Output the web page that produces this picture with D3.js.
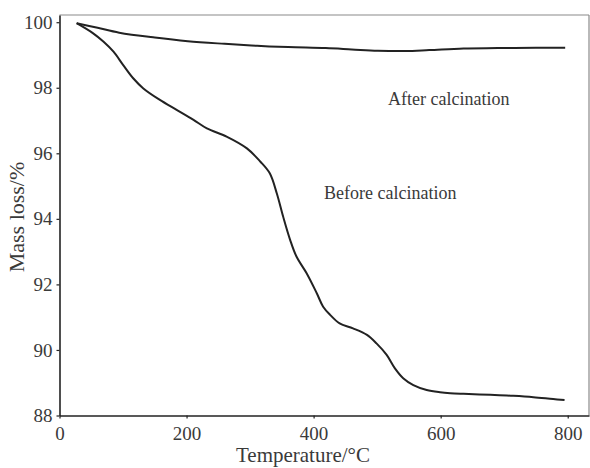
<!DOCTYPE html>
<html>
<head>
<meta charset="utf-8">
<script src="https://cdn.jsdelivr.net/npm/d3@7"></script>
<style>
  html, body { margin: 0; padding: 0; background: #fff; }
  svg { display: block; }
</style>
</head>
<body>
<svg id="chart" width="590" height="468"></svg>
<script>
// ---- Data ----
const xTicks = [0, 200, 400, 600, 800];
const yTicks = [88, 90, 92, 94, 96, 98, 100];

const beforeT = [27, 53, 69, 85, 100, 116, 132, 158, 185, 211, 232, 263, 295, 316, 331, 342, 352, 363, 373, 389, 405, 415, 426, 441, 462, 484, 499, 515, 528, 541, 557, 578, 599, 615, 636, 678, 714, 746, 777, 795];
const beforeM = [99.97, 99.66, 99.41, 99.10, 98.70, 98.29, 97.98, 97.63, 97.32, 97.02, 96.76, 96.51, 96.15, 95.75, 95.39, 94.78, 94.07, 93.36, 92.85, 92.34, 91.73, 91.32, 91.07, 90.81, 90.66, 90.46, 90.20, 89.85, 89.44, 89.14, 88.93, 88.78, 88.71, 88.68, 88.66, 88.63, 88.60, 88.56, 88.50, 88.47];

const afterT = [27, 60, 94, 150, 202, 260, 311, 360, 419, 460, 501, 544, 582, 636, 690, 750, 796];
const afterM = [99.97, 99.83, 99.68, 99.53, 99.42, 99.34, 99.28, 99.24, 99.21, 99.17, 99.13, 99.12, 99.15, 99.20, 99.21, 99.22, 99.22];

const labels = ["After calcination", "Before calcination"];

// ---- Layout ----
const svg = d3.select("#chart");
const L = 59.5, R = 589, T = 15, B = 415.5;
const x = d3.scaleLinear().domain([0, 833.5]).range([L, R]);
const y = d3.scaleLinear().domain([88, 100.22]).range([B, T]);
const font = "'Liberation Serif', 'Times New Roman', serif";
const textCol = "#3a3a3a";

// frame (top/right)
svg.append("line").attr("x1", L).attr("x2", R).attr("y1", T).attr("y2", T)
  .attr("stroke", "#8a8a8a").attr("stroke-width", 1.2);
svg.append("line").attr("x1", R).attr("x2", R).attr("y1", T).attr("y2", B)
  .attr("stroke", "#8a8a8a").attr("stroke-width", 1.2);

// axes
const xAxis = d3.axisBottom(x).tickValues(xTicks).tickSize(3).tickSizeOuter(0).tickPadding(8);
const yAxis = d3.axisLeft(y).tickValues(yTicks).tickSize(3).tickSizeOuter(0).tickPadding(4);

const gx = svg.append("g").attr("transform", `translate(0,${B})`).call(xAxis);
const gy = svg.append("g").attr("transform", `translate(${L},0)`).call(yAxis);
[gx, gy].forEach(g => {
  g.select(".domain").attr("stroke", "#222").attr("stroke-width", 1.6);
  g.selectAll(".tick line").attr("stroke", "#222").attr("stroke-width", 1.2);
  g.selectAll(".tick text").attr("font-family", font).attr("font-size", 19).attr("fill", textCol);
});

// axis titles
svg.append("text").attr("x", 303).attr("y", 462).attr("text-anchor", "middle")
  .attr("font-family", font).attr("font-size", 21).attr("fill", textCol)
  .text("Temperature/°C");
svg.append("text").attr("transform", "translate(24,217) rotate(-90)").attr("text-anchor", "middle")
  .attr("font-family", font).attr("font-size", 22).attr("fill", textCol)
  .text("Mass loss/%");

// curves
const line = d3.line().x(d => x(d[0])).y(d => y(d[1])).curve(d3.curveCatmullRom.alpha(0.5));
const before = beforeT.map((t, i) => [t, beforeM[i]]);
const after = afterT.map((t, i) => [t, afterM[i]]);
[before, after].forEach(data => {
  svg.append("path").datum(data).attr("d", line)
    .attr("fill", "none").attr("stroke", "#222").attr("stroke-width", 2);
});

// annotations
svg.append("text").attr("x", 388).attr("y", 105)
  .attr("font-family", font).attr("font-size", 18).attr("fill", textCol).text(labels[0]);
svg.append("text").attr("x", 324).attr("y", 199)
  .attr("font-family", font).attr("font-size", 18).attr("fill", textCol).text(labels[1]);
</script>
</body>
</html>
